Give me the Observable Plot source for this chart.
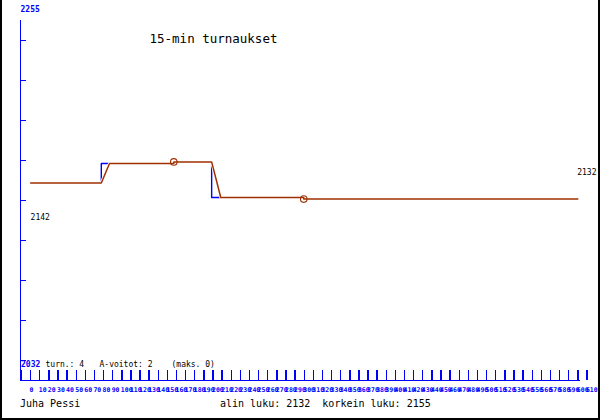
<!DOCTYPE html>
<html><head><meta charset="utf-8">
<script src="https://cdn.jsdelivr.net/npm/d3@7"></script>
<script src="https://cdn.jsdelivr.net/npm/@observablehq/plot@0.6"></script>
<style>
body{margin:0;background:#fff}
#wrap{position:relative;width:600px;height:420px}
#border{position:absolute;left:0;top:0;width:600px;height:420px;box-sizing:border-box;border-left:2px solid #000;border-right:2px solid #000;border-bottom:2px solid #000;pointer-events:none}
</style></head><body><div id="wrap"><div id="border"></div></div>
<script>
// ---- data ----
const yMin = 2032, yMax = 2255;          // lowest - 100, highest + 100
const xMin = 0, xMax = 600;
// rating as steps (blue)
const stepX = [0, 77.5, 77.5, 157, 157, 198.5, 198.5, 299.5, 299.5, 600];
const stepY = [2142, 2142, 2154, 2154, 2155, 2155, 2133, 2133, 2132, 2132];
// connecting line (brown)
const lineX = [0, 77.5, 86.5, 157, 157, 198.5, 208.5, 299.5, 299.5, 600];
const lineY = [2142, 2142, 2154, 2154, 2155, 2155, 2133, 2133, 2132, 2132];
// circled events
const markX = [157, 299.5];
const markY = [2155, 2132];
// axis ticks / labels
const xTicks = d3.range(-10, 611, 10);
const xLabels = d3.range(0, 611, 10);
const yStep = (yMax - yMin) / 9;
const yTicks = d3.range(0, 9).map(k => yMin + k * yStep);
const firstValue = 2142, lastValue = 2132;
const titleText = "15-min turnaukset";
const infoTexts = ["turn.: 4", "A-voitot: 2", "(maks. 0)"];
const nameText = "Juha Pessi";
const rangeText = "alin luku: 2132  korkein luku: 2155";

const BLUE = "#0000ff", BROWN = "#a03000", MONO = "DejaVu Sans Mono";
const stepData = stepX.map((x, i) => ({x, y: stepY[i]}));
const lineData = lineX.map((x, i) => ({x, y: lineY[i]}));
const markData = markX.map((x, i) => ({x, y: markY[i]}));
const axisLeftX = xMin - 11, axisRightX = xMax + 3;
const axisBottomY = yMin - yStep / 2, axisTopY = yMax - yStep / 2;
const crisp = {shapeRendering: "crispEdges"};

const chart = Plot.plot({
  width: 600, height: 420, margin: 0,
  style: {background: "transparent", overflow: "visible"},
  x: {domain: [xMin, xMax], range: [30.12, 577.32], axis: null},
  y: {domain: [yMin, yMax], range: [360, 0], axis: null},
  marks: [
    // axes
    Plot.ruleX([axisLeftX], {y1: axisBottomY, y2: axisTopY, stroke: BLUE, strokeWidth: 1.4, ...crisp}),
    Plot.ruleY(yTicks, {y: d => d, x1: axisLeftX, x2: xMin - 4.4, stroke: BLUE, strokeWidth: 1.4, ...crisp}),
    Plot.ruleY([axisBottomY], {x1: axisLeftX, x2: axisRightX, stroke: BLUE, strokeWidth: 1.4, ...crisp}),
    Plot.ruleX(xTicks, {x: d => d, y1: axisBottomY, y2: yMin - yStep / 4, stroke: BLUE, strokeWidth: 1.4, ...crisp}),
    Plot.text(xLabels, {x: d => d, y: axisBottomY, text: d => String(d), dx: -1, dy: 11.5,
      textAnchor: "start", lineAnchor: "bottom", fontSize: 6.5, fontWeight: "bold", fill: BLUE, fontFamily: MONO}),
    // lines
    Plot.line(stepData, {x: "x", y: "y", stroke: BLUE, strokeWidth: 1.4}),
    Plot.line(lineData, {x: "x", y: "y", stroke: "#fff", strokeWidth: 3}),
    Plot.line(lineData, {x: "x", y: "y", stroke: BROWN, strokeWidth: 1.5}),
    Plot.dot(markData, {x: "x", y: "y", r: 3.3, stroke: BROWN, fill: "none", strokeWidth: 1.1}),
    // value labels
    Plot.text([firstValue], {x: xMin, y: d => d, text: d => String(d), dy: 36.6, textAnchor: "start",
      lineAnchor: "bottom", fontSize: 8, fill: "#000", fontFamily: MONO}),
    Plot.text([lastValue], {x: xMax, y: d => d, text: d => String(d), dx: -0.6, dy: -23.6, textAnchor: "start",
      lineAnchor: "bottom", fontSize: 8, fill: "#000", fontFamily: MONO}),
    // y extreme labels
    Plot.text([yMax], {frameAnchor: "top-left", text: d => String(d), dx: 20, dy: 11.7, textAnchor: "start",
      lineAnchor: "bottom", fontSize: 8, fontWeight: "bold", fill: BLUE, fontFamily: MONO}),
    Plot.text([yMin], {frameAnchor: "top-left", text: d => String(d), dx: 20.5, dy: 366.7, textAnchor: "start",
      lineAnchor: "bottom", fontSize: 8, fontWeight: "bold", fill: BLUE, fontFamily: MONO}),
    // info line
    Plot.text([infoTexts[0]], {frameAnchor: "top-left", text: d => d, dx: 45, dy: 366.7, textAnchor: "start",
      lineAnchor: "bottom", fontSize: 8, fill: "#000", fontFamily: MONO}),
    Plot.text([infoTexts[1]], {frameAnchor: "top-left", text: d => d, dx: 99, dy: 366.7, textAnchor: "start",
      lineAnchor: "bottom", fontSize: 8, fill: "#000", fontFamily: MONO}),
    Plot.text([infoTexts[2]], {frameAnchor: "top-left", text: d => d, dx: 171, dy: 366.7, textAnchor: "start",
      lineAnchor: "bottom", fontSize: 8, fill: "#000", fontFamily: MONO}),
    // title
    Plot.text([titleText], {frameAnchor: "top-left", text: d => d, dx: 149, dy: 42, textAnchor: "start",
      lineAnchor: "bottom", fontSize: 12.5, fill: "#000", fontFamily: MONO}),
    // footer
    Plot.text([nameText], {frameAnchor: "top-left", text: d => d, dx: 19.5, dy: 406, textAnchor: "start",
      lineAnchor: "bottom", fontSize: 10, fill: "#000", fontFamily: MONO}),
    Plot.text([rangeText], {frameAnchor: "top-left", text: d => d, dx: 219.5, dy: 406, textAnchor: "start",
      lineAnchor: "bottom", fontSize: 10, fill: "#000", fontFamily: MONO})
  ]
});
document.getElementById("wrap").prepend(chart);
</script>
</body></html>
